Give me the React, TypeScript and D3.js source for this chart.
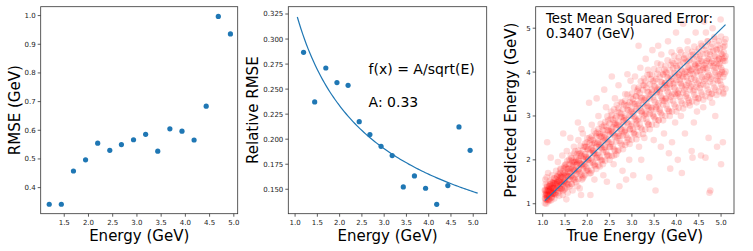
import * as d3 from "d3";

const energies = [1.19, 1.44, 1.69, 1.94, 2.19, 2.44, 2.68, 2.93, 3.18, 3.43, 3.68, 3.93, 4.18, 4.43, 4.68, 4.93];
const rmse = [0.342, 0.342, 0.458, 0.497, 0.555, 0.53, 0.55, 0.567, 0.586, 0.527, 0.605, 0.597, 0.566, 0.684, 0.997, 0.936];
const relRmse = [0.2867, 0.2372, 0.2711, 0.2565, 0.2538, 0.2175, 0.2046, 0.1929, 0.1836, 0.1523, 0.1633, 0.151, 0.135, 0.1537, 0.2122, 0.1889];
const fitA = 0.33;
const fitRange = [1.05, 5.1];
const idealLine = [[1.05, 1.07], [5.1, 5.08]];

const xTicks1 = [1.5, 2.0, 2.5, 3.0, 3.5, 4.0, 4.5, 5.0];
const yTicks1 = [0.4, 0.5, 0.6, 0.7, 0.8, 0.9, 1.0];
const xTicks2 = [1.0, 1.5, 2.0, 2.5, 3.0, 3.5, 4.0, 4.5, 5.0];
const yTicks2 = [0.15, 0.175, 0.2, 0.225, 0.25, 0.275, 0.3, 0.325];
const yTicks3 = [1, 2, 3, 4, 5];

// scattered test points: true energy, predicted energy
const testPoints: [number, number][] = [
  [1.06, 1.12], [1.08, 1.25], [1.1, 1.38], [1.12, 1.05], [1.07, 1.45], [1.15, 1.2], [1.18, 1.32], [1.09, 1.6],
  [1.2, 1.15], [1.22, 1.42], [1.13, 1.28], [1.16, 1.52], [1.25, 1.3], [1.27, 1.58], [1.11, 1.18], [1.19, 1.08],
  [1.23, 1.22], [1.28, 1.45], [1.05, 1.3], [1.14, 1.4], [1.21, 1.65], [1.26, 1.12], [1.17, 1.36], [1.08, 1.0],
  [1.24, 1.5], [1.29, 1.25], [1.12, 1.7], [1.1, 2.4], [1.3, 1.75], [1.06, 1.55], [1.2, 1.28], [1.15, 1.1],
  [1.18, 2.05], [1.09, 1.22], [1.07, 1.18], [1.13, 1.33], [1.22, 1.24], [1.16, 1.44], [1.1, 1.14], [1.24, 1.36],
  [1.31, 1.4], [1.33, 1.62], [1.35, 1.3], [1.38, 1.55], [1.4, 1.8], [1.42, 1.45], [1.45, 1.2], [1.47, 1.68],
  [1.5, 1.5], [1.52, 1.9], [1.55, 1.38], [1.57, 1.72], [1.34, 1.95], [1.37, 1.18], [1.41, 1.6], [1.44, 2.1],
  [1.48, 1.32], [1.51, 1.62], [1.54, 2.2], [1.58, 1.55], [1.36, 1.5], [1.43, 1.35], [1.49, 1.85], [1.56, 1.25],
  [1.59, 2.0], [1.39, 1.7], [1.46, 2.6], [1.53, 1.1], [1.32, 1.48], [1.4, 1.42], [1.47, 1.52],
  [1.61, 1.7], [1.63, 2.1], [1.65, 1.45], [1.68, 1.88], [1.7, 2.3], [1.72, 1.6], [1.75, 2.0], [1.78, 1.4],
  [1.8, 2.45], [1.82, 1.8], [1.85, 2.15], [1.88, 1.55], [1.9, 2.6], [1.93, 1.95], [1.95, 2.3], [1.98, 1.75],
  [1.62, 2.5], [1.67, 1.3], [1.73, 2.2], [1.77, 1.9], [1.83, 1.35], [1.87, 2.7], [1.92, 1.62], [1.97, 2.05],
  [1.66, 1.95], [1.79, 2.85], [1.86, 1.2], [1.99, 2.4], [1.7, 1.75], [1.81, 2.0], [1.9, 1.9],
  [2.02, 2.0], [2.05, 2.5], [2.08, 1.7], [2.1, 2.8], [2.13, 2.2], [2.16, 1.55], [2.19, 2.6], [2.22, 2.05],
  [2.25, 3.0], [2.28, 1.85], [2.3, 2.4], [2.33, 2.75], [2.36, 1.65], [2.39, 2.3], [2.42, 3.2], [2.45, 2.1],
  [2.48, 2.65], [2.04, 3.3], [2.11, 2.35], [2.17, 1.9], [2.21, 3.4], [2.27, 2.55], [2.34, 2.0], [2.38, 3.6],
  [2.44, 1.5], [2.47, 2.9], [2.07, 1.2], [2.4, 2.45], [2.14, 2.15], [2.26, 2.3], [2.35, 2.6],
  [2.51, 2.3], [2.53, 3.1], [2.56, 2.6], [2.59, 1.9], [2.62, 3.4], [2.65, 2.8], [2.68, 2.2], [2.7, 3.7],
  [2.73, 2.55], [2.76, 3.05], [2.79, 1.75], [2.82, 2.9], [2.85, 3.5], [2.88, 2.4], [2.91, 3.25], [2.94, 2.0],
  [2.97, 3.8], [2.55, 3.9], [2.6, 2.1], [2.66, 3.25], [2.72, 1.4], [2.78, 3.3], [2.84, 2.65], [2.9, 3.95],
  [2.96, 2.7], [2.63, 2.95], [2.87, 1.55], [2.99, 3.0], [2.58, 2.75], [2.7, 2.6], [2.81, 2.8],
  [3.01, 3.3], [3.04, 2.6], [3.07, 3.9], [3.1, 2.9], [3.13, 3.6], [3.16, 2.3], [3.19, 4.1], [3.22, 3.1],
  [3.25, 3.7], [3.28, 2.5], [3.31, 4.3], [3.34, 3.4], [3.37, 2.8], [3.4, 3.95], [3.43, 3.2], [3.46, 4.5],
  [3.49, 2.45], [3.03, 1.65], [3.09, 3.45], [3.15, 4.6], [3.21, 2.0], [3.27, 3.85], [3.33, 3.05], [3.39, 1.6],
  [3.45, 3.6], [3.12, 2.75], [3.36, 4.05], [3.48, 3.0], [3.06, 3.1], [3.2, 3.35], [3.3, 3.2],
  [3.51, 3.8], [3.54, 3.2], [3.57, 4.2], [3.6, 2.9], [3.63, 3.6], [3.66, 4.4], [3.69, 3.35], [3.72, 2.6],
  [3.75, 4.0], [3.78, 3.7], [3.81, 4.7], [3.84, 3.1], [3.87, 3.9], [3.9, 2.4], [3.93, 4.2], [3.96, 3.5],
  [3.99, 4.9], [3.53, 1.3], [3.59, 4.6], [3.65, 2.3], [3.71, 3.95], [3.77, 3.4], [3.83, 2.15], [3.89, 4.45],
  [3.95, 3.75], [3.62, 3.1], [3.86, 1.8], [3.97, 2.85], [3.56, 3.55], [3.74, 3.75], [3.85, 3.65],
  [4.01, 4.1], [4.04, 3.5], [4.07, 4.5], [4.1, 3.0], [4.13, 3.9], [4.16, 4.3], [4.19, 2.6], [4.22, 3.7],
  [4.25, 4.7], [4.28, 3.3], [4.31, 4.05], [4.34, 2.2], [4.37, 4.4], [4.4, 3.6], [4.43, 4.9], [4.46, 3.1],
  [4.49, 4.2], [4.03, 2.0], [4.09, 3.75], [4.15, 5.1], [4.21, 3.45], [4.27, 4.25], [4.33, 3.85], [4.39, 2.85],
  [4.45, 4.0], [4.12, 1.7], [4.36, 2.05], [4.48, 3.4], [4.06, 3.95], [4.24, 4.0], [4.42, 4.15],
  [4.51, 4.3], [4.54, 3.7], [4.57, 4.6], [4.6, 3.2], [4.63, 4.1], [4.66, 4.9], [4.69, 3.9], [4.72, 2.5],
  [4.75, 4.4], [4.78, 3.5], [4.81, 5.0], [4.84, 4.2], [4.87, 3.0], [4.9, 4.5], [4.93, 3.8], [4.96, 4.3],
  [4.99, 5.2], [5.02, 4.0], [5.05, 3.5], [5.08, 4.6], [4.55, 2.1], [4.59, 4.05], [4.65, 2.05], [4.7, 4.7],
  [4.76, 1.3], [4.8, 3.3], [4.85, 4.8], [4.91, 2.3], [4.95, 4.15], [5.0, 1.9], [5.04, 2.4], [5.09, 4.25],
  [4.62, 5.15], [4.74, 1.25], [4.98, 3.95], [5.06, 4.45], [4.68, 4.25], [4.88, 4.1], [5.03, 4.3],
];

// dense core of the test set: true energy, predicted energies at that energy
const testCore: [number, number[]][] = [
  [1.05, [1.01, 1.12, 1.22, 1.32]], [1.1, [1.09, 1.2, 1.3, 1.41]], [1.15, [1.07, 1.18, 1.29, 1.39]],
  [1.2, [1.14, 1.26, 1.37, 1.49]], [1.25, [1.22, 1.35, 1.46, 1.58]], [1.3, [1.2, 1.32, 1.44, 1.55]],
  [1.35, [1.25, 1.4, 1.53, 1.67]], [1.4, [1.34, 1.49, 1.62, 1.78]], [1.45, [1.29, 1.44, 1.6, 1.74]],
  [1.5, [1.35, 1.53, 1.7, 1.88]], [1.55, [1.45, 1.63, 1.79, 1.98]], [1.6, [1.39, 1.56, 1.74, 1.9]],
  [1.65, [1.45, 1.65, 1.84, 2.04]], [1.7, [1.56, 1.77, 1.94, 2.15]], [1.75, [1.49, 1.68, 1.88, 2.06]],
  [1.8, [1.56, 1.78, 1.98, 2.21]], [1.85, [1.67, 1.9, 2.09, 2.32]], [1.9, [1.58, 1.8, 2.02, 2.22]],
  [1.95, [1.66, 1.9, 2.13, 2.37]], [2.0, [1.78, 2.03, 2.24, 2.49]], [2.05, [1.69, 1.92, 2.16, 2.37]],
  [2.1, [1.76, 2.03, 2.27, 2.53]], [2.15, [1.89, 2.16, 2.39, 2.66]], [2.2, [1.79, 2.04, 2.3, 2.53]],
  [2.25, [1.87, 2.15, 2.41, 2.7]], [2.3, [2.0, 2.29, 2.53, 2.82]], [2.35, [1.9, 2.17, 2.43, 2.68]],
  [2.4, [1.98, 2.28, 2.56, 2.86]], [2.45, [2.12, 2.42, 2.68, 2.99]], [2.5, [2.0, 2.29, 2.57, 2.83]],
  [2.55, [2.09, 2.41, 2.7, 3.02]], [2.6, [2.24, 2.56, 2.83, 3.15]], [2.65, [2.12, 2.42, 2.72, 2.99]],
  [2.7, [2.22, 2.55, 2.85, 3.18]], [2.75, [2.37, 2.7, 2.98, 3.32]], [2.8, [2.24, 2.55, 2.87, 3.15]],
  [2.85, [2.34, 2.68, 3.0, 3.35]], [2.9, [2.5, 2.85, 3.14, 3.49]], [2.95, [2.36, 2.69, 3.01, 3.31]],
  [3.0, [2.46, 2.82, 3.15, 3.51]], [3.05, [2.62, 2.98, 3.28, 3.65]], [3.1, [2.47, 2.81, 3.15, 3.45]],
  [3.15, [2.57, 2.94, 3.28, 3.65]], [3.2, [2.73, 3.11, 3.42, 3.79]], [3.25, [2.59, 2.93, 3.27, 3.59]],
  [3.3, [2.69, 3.06, 3.41, 3.79]], [3.35, [2.85, 3.23, 3.55, 3.93]], [3.4, [2.7, 3.05, 3.4, 3.72]],
  [3.45, [2.8, 3.18, 3.54, 3.93]], [3.5, [2.97, 3.36, 3.68, 4.07]], [3.55, [2.8, 3.16, 3.52, 3.84]],
  [3.6, [2.9, 3.29, 3.65, 4.04]], [3.65, [3.06, 3.45, 3.78, 4.17]], [3.7, [2.9, 3.26, 3.62, 3.94]],
  [3.75, [3.0, 3.39, 3.75, 4.14]], [3.8, [3.16, 3.55, 3.88, 4.27]], [3.85, [3.0, 3.36, 3.72, 4.04]],
  [3.9, [3.1, 3.49, 3.85, 4.24]], [3.95, [3.26, 3.65, 3.98, 4.37]], [4.0, [3.1, 3.46, 3.82, 4.14]],
  [4.05, [3.19, 3.58, 3.94, 4.33]], [4.1, [3.34, 3.73, 4.06, 4.45]], [4.15, [3.17, 3.53, 3.88, 4.21]],
  [4.2, [3.26, 3.65, 4.01, 4.39]], [4.25, [3.41, 3.8, 4.13, 4.52]], [4.3, [3.24, 3.6, 3.95, 4.28]],
  [4.35, [3.33, 3.72, 4.07, 4.46]], [4.4, [3.48, 3.87, 4.19, 4.58]], [4.45, [3.31, 3.66, 4.02, 4.35]],
  [4.5, [3.4, 3.79, 4.14, 4.53]], [4.55, [3.54, 3.93, 4.26, 4.65]], [4.6, [3.37, 3.72, 4.08, 4.41]],
  [4.65, [3.45, 3.84, 4.2, 4.59]], [4.7, [3.6, 3.99, 4.31, 4.7]], [4.75, [3.42, 3.78, 4.14, 4.46]],
  [4.8, [3.51, 3.9, 4.25, 4.64]], [4.85, [3.65, 4.04, 4.37, 4.76]], [4.9, [3.48, 3.83, 4.19, 4.52]],
  [4.95, [3.56, 3.95, 4.31, 4.7]], [5.0, [3.71, 4.1, 4.42, 4.81]], [5.05, [3.53, 3.89, 4.25, 4.57]],
  [5.1, [3.62, 4.01, 4.36, 4.75]],
];

const testCoreMid: [number, number[]][] = [
  [1.075, [1.09, 1.2, 1.31]], [1.125, [1.09, 1.21, 1.31]], [1.175, [1.23, 1.34, 1.45]], [1.225, [1.23, 1.36, 1.47]],
  [1.275, [1.22, 1.35, 1.47]], [1.325, [1.36, 1.49, 1.62]], [1.375, [1.36, 1.51, 1.65]], [1.425, [1.33, 1.49, 1.64]],
  [1.475, [1.49, 1.65, 1.81]], [1.525, [1.47, 1.66, 1.83]], [1.575, [1.43, 1.62, 1.8]], [1.625, [1.62, 1.8, 1.98]],
  [1.675, [1.59, 1.8, 1.98]], [1.725, [1.54, 1.75, 1.95]], [1.775, [1.74, 1.94, 2.14]], [1.825, [1.71, 1.93, 2.14]],
  [1.875, [1.65, 1.88, 2.09]], [1.925, [1.86, 2.08, 2.3]], [1.975, [1.82, 2.07, 2.3]], [2.025, [1.75, 2.01, 2.24]],
  [2.075, [1.99, 2.23, 2.46]], [2.125, [1.94, 2.21, 2.45]], [2.175, [1.86, 2.14, 2.39]], [2.225, [2.11, 2.37, 2.62]],
  [2.275, [2.06, 2.34, 2.6]], [2.325, [1.98, 2.27, 2.53]], [2.375, [2.23, 2.51, 2.78]], [2.425, [2.18, 2.48, 2.76]],
  [2.475, [2.09, 2.4, 2.68]], [2.525, [2.36, 2.65, 2.94]], [2.575, [2.3, 2.62, 2.91]], [2.625, [2.21, 2.53, 2.83]],
  [2.675, [2.5, 2.8, 3.1]], [2.725, [2.43, 2.76, 3.07]], [2.775, [2.33, 2.67, 2.98]], [2.825, [2.63, 2.95, 3.26]],
  [2.875, [2.56, 2.91, 3.23]], [2.925, [2.46, 2.81, 3.13]], [2.975, [2.77, 3.1, 3.42]], [3.025, [2.69, 3.05, 3.38]],
  [3.075, [2.58, 2.94, 3.28]], [3.125, [2.89, 3.23, 3.56]], [3.175, [2.81, 3.18, 3.52]], [3.225, [2.69, 3.06, 3.41]],
  [3.275, [3.01, 3.36, 3.7]], [3.325, [2.93, 3.3, 3.65]], [3.375, [2.81, 3.19, 3.54]], [3.425, [3.13, 3.49, 3.84]],
  [3.475, [3.04, 3.43, 3.79]], [3.525, [2.92, 3.31, 3.66]], [3.575, [3.24, 3.6, 3.96]], [3.625, [3.15, 3.54, 3.89]],
  [3.675, [3.02, 3.41, 3.76]], [3.725, [3.34, 3.7, 4.06]], [3.775, [3.24, 3.64, 3.99]], [3.825, [3.12, 3.51, 3.86]],
  [3.875, [3.44, 3.8, 4.16]], [3.925, [3.34, 3.73, 4.09]], [3.975, [3.21, 3.6, 3.96]], [4.025, [3.53, 3.89, 4.25]],
  [4.075, [3.43, 3.82, 4.17]], [4.125, [3.29, 3.68, 4.03]], [4.175, [3.6, 3.96, 4.32]], [4.225, [3.5, 3.89, 4.24]],
  [4.275, [3.36, 3.75, 4.1]], [4.325, [3.67, 4.03, 4.39]], [4.375, [3.56, 3.95, 4.31]], [4.425, [3.42, 3.82, 4.17]],
  [4.475, [3.74, 4.1, 4.46]], [4.525, [3.63, 4.02, 4.38]], [4.575, [3.49, 3.88, 4.24]], [4.625, [3.8, 4.16, 4.51]],
  [4.675, [3.69, 4.08, 4.43]], [4.725, [3.54, 3.93, 4.29]], [4.775, [3.85, 4.21, 4.57]], [4.825, [3.74, 4.13, 4.49]],
  [4.875, [3.6, 3.99, 4.35]], [4.925, [3.91, 4.27, 4.62]], [4.975, [3.8, 4.19, 4.54]], [5.025, [3.65, 4.04, 4.4]],
  [5.075, [3.96, 4.32, 4.68]],
];

const FONT = "DejaVu Sans, sans-serif";
const BLUE = "#1f77b4";
const TOP = 6.7;
const BOTTOM = 213.7;

type Scale = d3.ScaleLinear<number, number>;

function Frame({ x, y, xTicks, yTicks, xFmt, yFmt, xLabel, yLabel, yLabelX }: {
  x: Scale; y: Scale; xTicks: number[]; yTicks: number[];
  xFmt: (v: number) => string; yFmt: (v: number) => string;
  xLabel: string; yLabel: string; yLabelX: number;
}) {
  const [x0, x1] = x.range();
  const [y0, y1] = y.range();
  return (
    <g fontFamily={FONT}>
      <rect x={x0} y={y1} width={x1 - x0} height={y0 - y1} fill="none" stroke="#333" strokeWidth={0.8} />
      {xTicks.map((t) => (
        <g key={"x" + t} transform={`translate(${x(t)},${y0})`}>
          <line y2={3} stroke="#333" strokeWidth={0.8} />
          <text y={11} fontSize={7} textAnchor="middle" fill="#222">{xFmt(t)}</text>
        </g>
      ))}
      {yTicks.map((t) => (
        <g key={"y" + t} transform={`translate(${x0},${y(t)})`}>
          <line x2={-3} stroke="#333" strokeWidth={0.8} />
          <text x={-5} dy="0.35em" fontSize={7} textAnchor="end" fill="#222">{yFmt(t)}</text>
        </g>
      ))}
      <text x={(x0 + x1) / 2} y={241} fontSize={15} textAnchor="middle">{xLabel}</text>
      <text transform={`translate(${yLabelX},${(y0 + y1) / 2}) rotate(-90)`} fontSize={15} textAnchor="middle">{yLabel}</text>
    </g>
  );
}

export default function App() {
  const x1 = d3.scaleLinear().domain([1.014, 5.08]).range([40.7, 237.7]);
  const y1 = d3.scaleLinear().domain([0.309, 1.031]).range([BOTTOM, TOP]);

  const x2 = d3.scaleLinear().domain([0.8475, 5.3025]).range([288.3, 486.7]);
  const y2 = d3.scaleLinear().domain([0.1256, 0.3323]).range([BOTTOM, TOP]);

  const x3 = d3.scaleLinear().domain([0.843, 5.29]).range([535.7, 734]);
  const y3 = d3.scaleLinear().domain([0.773, 5.49]).range([BOTTOM, TOP]);

  const fitXs = d3.range(0, 101).map((i) => fitRange[0] + ((fitRange[1] - fitRange[0]) * i) / 100);
  const fitPath = d3.line<number>().x((e) => x2(e)).y((e) => y2(fitA / Math.sqrt(e)))(fitXs) ?? "";
  const idealPath = d3.line<number[]>().x((d) => x3(d[0])).y((d) => y3(d[1]))(idealLine) ?? "";

  const unpack = (rows: [number, number[]][]) =>
    rows.flatMap(([e, preds]) => preds.map((p) => [e, p] as [number, number]));
  const allTest: [number, number][] = [...testPoints, ...unpack(testCore), ...unpack(testCoreMid)];

  return (
    <svg width={753} height={251} style={{ position: "absolute", left: 0, top: 0, background: "#fff" }}>
      {/* panel 1 */}
      {energies.map((e, i) => (
        <circle key={"a" + i} cx={x1(e)} cy={y1(rmse[i])} r={2.6} fill={BLUE} />
      ))}
      <Frame x={x1} y={y1} xTicks={xTicks1} yTicks={yTicks1} xFmt={d3.format(".1f")} yFmt={d3.format(".1f")}
        xLabel="Energy (GeV)" yLabel="RMSE (GeV)" yLabelX={20} />

      {/* panel 2 */}
      <path d={fitPath} fill="none" stroke={BLUE} strokeWidth={1.2} />
      {energies.map((e, i) => (
        <circle key={"b" + i} cx={x2(e)} cy={y2(relRmse[i])} r={2.6} fill={BLUE} />
      ))}
      <text x={x2(2.65)} y={y2(0.265)} fontSize={14} fontFamily={FONT}>f(x) = A/sqrt(E)</text>
      <text x={x2(2.65)} y={y2(0.2325)} fontSize={14} fontFamily={FONT}>A: {fitA.toFixed(2)}</text>
      <Frame x={x2} y={y2} xTicks={xTicks2} yTicks={yTicks2} xFmt={d3.format(".1f")} yFmt={d3.format(".3f")}
        xLabel="Energy (GeV)" yLabel="Relative RMSE" yLabelX={258} />

      {/* panel 3 */}
      {allTest.map((d, i) => (
        <circle key={"c" + i} cx={x3(d[0])} cy={y3(d[1])} r={3.3} fill="red" fillOpacity={0.14} />
      ))}
      <path d={idealPath} fill="none" stroke={BLUE} strokeWidth={1.2} />
      <text x={546} y={23} fontSize={13.3} fontFamily={FONT}>Test Mean Squared Error:</text>
      <text x={546} y={37.8} fontSize={13.3} fontFamily={FONT}>0.3407 (GeV)</text>
      <Frame x={x3} y={y3} xTicks={xTicks2} yTicks={yTicks3} xFmt={d3.format(".1f")} yFmt={d3.format("d")}
        xLabel="True Energy (GeV)" yLabel="Predicted Energy (GeV)" yLabelX={516} />
    </svg>
  );
}
